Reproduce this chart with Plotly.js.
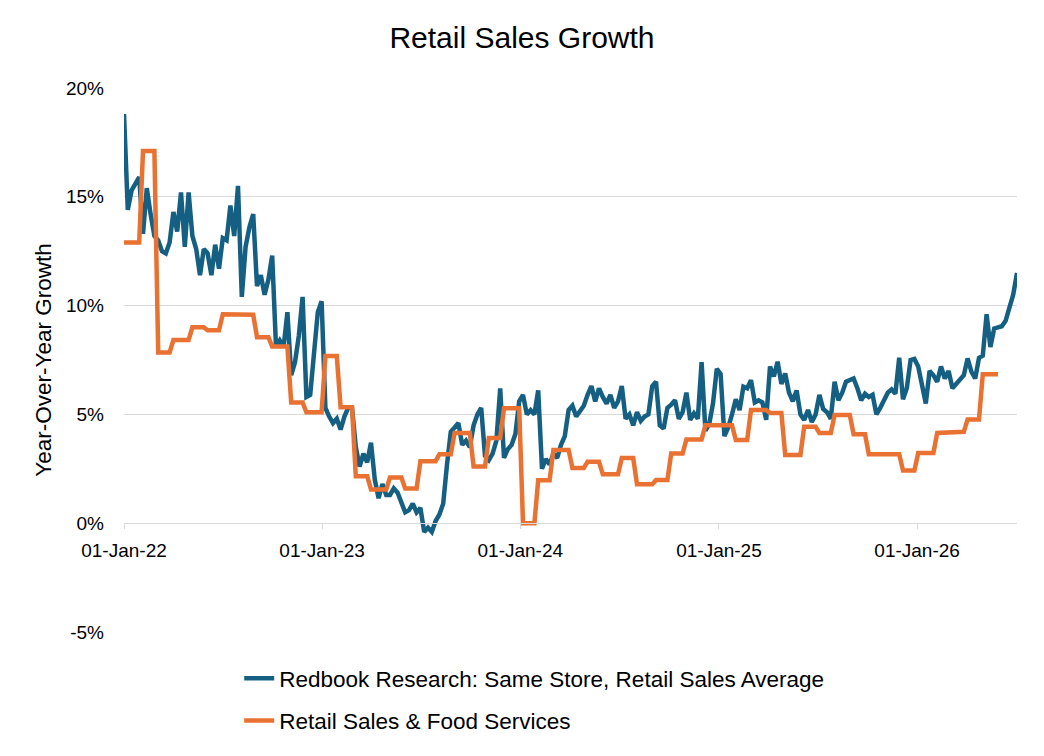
<!DOCTYPE html>
<html>
<head>
<meta charset="utf-8">
<script src="https://cdn.plot.ly/plotly-3.0.1.min.js"></script>
<style>html,body{margin:0;padding:0;background:#fff;}#chart{width:1044px;height:756px;}</style>
</head>
<body>
<div id="chart"></div>
<script>
// Weekly series (week ending Saturday), starting 2022-01-01
const firstWeek = '2022-01-01';
const redbook2022 = [18.8,14.4,15.3,15.6,15.9,13.3,15.4,14.2,13.2,13.0,12.5,12.4,12.9,14.3,13.4,15.2,12.7,15.2,13.2,12.6,11.4,12.6,12.4,11.4,12.8,11.7,13.1,13.0,14.6,13.2,15.5,10.4,12.7,13.6,14.2,10.9,11.4,10.5,11.2,12.3,8.1,8.4,8.1,9.7,6.8,7.4,8.6,10.4,5.8,5.9,7.6,9.7,10.2];
const redbook2023 = [5.3,4.9,4.6,4.8,4.3,4.9,5.3,5.3,3.5,2.6,3.2,2.8,3.7,2.0,1.15,1.8,1.3,1.3,1.6,1.4,1.0,0.5,0.6,0.9,0.5,0.7,-0.4,-0.2,-0.4,0.1,0.4,0.9,2.7,4.2,4.4,4.6,3.6,3.8,3.5,4.5,5.0,5.3,3.1,2.9,3.2,3.8,6.2,3.0,3.4,3.6,4.1,5.6];
const redbook2024 = [5.9,5.0,5.2,5.0,6.1,2.5,2.95,2.7,3.2,3.0,3.6,4.0,5.2,5.4,4.9,5.2,5.4,5.9,6.3,5.6,6.2,5.8,5.5,5.9,5.3,5.6,6.3,4.8,5.0,4.5,5.1,4.7,4.9,5.0,6.3,6.5,4.5,4.35,5.3,5.45,5.65,4.8,5.1,6.0,4.75,5.05,4.8,7.4,4.25,4.55,5.5,7.1];
const redbook2025 = [6.85,4.0,4.4,5.0,5.7,5.2,6.27,6.2,6.57,5.55,5.65,5.55,4.75,7.2,6.75,7.42,6.4,6.88,6.0,5.6,6.1,5.0,4.75,5.2,4.65,5.0,5.9,5.25,5.1,4.8,6.5,5.65,6.0,6.5,6.55,6.65,6.2,5.65,5.95,5.8,5.9,5.0,5.3,5.7,6.0,6.15,5.95,7.6,5.7,6.2,7.5,7.55];
const redbook2026 = [7.2,6.35,5.5,7.0,6.8,6.5,7.2,6.65,7.0,6.2,6.4,6.6,6.8,7.57,6.96,6.65,7.6,7.7,9.6,8.1,8.95,9.0,9.05,9.3,9.9,10.5,11.5];

// Monthly retail sales & food services YoY growth (%)
const retailMonths = ['2022-01','2022-02','2022-03','2022-04','2022-05','2022-06','2022-07','2022-08','2022-09','2022-10','2022-11','2022-12',
  '2023-01','2023-02','2023-03','2023-04','2023-05','2023-06','2023-07','2023-08','2023-09','2023-10','2023-11','2023-12',
  '2024-01','2024-02','2024-03','2024-04','2024-05','2024-06','2024-07','2024-08','2024-09','2024-10','2024-11','2024-12',
  '2025-01','2025-02','2025-03','2025-04','2025-05','2025-06','2025-07','2025-08','2025-09','2025-10','2025-11','2025-12',
  '2026-01','2026-02','2026-03','2026-04','2026-05'];
const retailValues = [12.9,17.1,7.85,8.42,9.0,8.87,9.6,9.58,8.55,8.12,5.55,5.1,
  7.68,5.33,2.16,1.55,2.1,1.6,2.85,3.17,4.15,2.6,3.92,5.28,
  0.0,1.97,3.36,2.54,2.82,2.25,3.0,1.79,1.98,3.2,3.85,4.5,
  4.5,3.82,5.2,5.07,3.13,4.43,4.15,4.97,4.09,3.17,3.17,2.42,
  3.23,4.15,4.2,4.77,6.85];

const yTickVals = [-5,0,5,10,15,20];
const yTickText = ['-5%','0%','5%','10%','15%','20%'];

const redbook = redbook2022.concat(redbook2023, redbook2024, redbook2025, redbook2026);
const start = new Date(firstWeek + 'T00:00:00Z');
const weeks = redbook.map((_, i) => {
  const d = new Date(start.getTime() + i * 7 * 86400000);
  return d.toISOString().slice(0, 10);
});
const monthLookup = {};
retailMonths.forEach((m, i) => { monthLookup[m] = retailValues[i]; });
const retailWeekly = weeks.map(d => (d.slice(0, 7) in monthLookup) ? monthLookup[d.slice(0, 7)] : null);

const FONT = 'Liberation Sans, Arial, sans-serif';

const traces = [
  {
    x: weeks, y: redbook, type: 'scatter', mode: 'lines',
    name: 'Redbook Research: Same Store, Retail Sales Average',
    line: {color: '#156082', width: 4.5}, legendgroup: 'a'
  },
  {
    x: weeks, y: retailWeekly, type: 'scatter', mode: 'lines',
    name: 'Retail Sales & Food Services',
    line: {color: '#E97132', width: 4.5}, legendgroup: 'b', connectgaps: false
  }
];

const layout = {
  width: 1044, height: 756,
  margin: {l: 124, r: 27, t: 88, b: 124},
  paper_bgcolor: '#ffffff', plot_bgcolor: '#ffffff',
  font: {family: FONT, color: '#000000'},
  title: {text: 'Retail Sales Growth', font: {size: 30, family: FONT, color: '#000'}, x: 0.5, xref: 'container', xanchor: 'center', y: 0.95, yref: 'container', yanchor: 'middle'},
  showlegend: true,
  legend: {
    orientation: 'v', x: 0.129, xanchor: 'left', y: -0.046, yanchor: 'top',
    font: {size: 22.5, family: FONT, color: '#000'},
    traceorder: 'grouped', tracegroupgap: 10, bgcolor: 'rgba(0,0,0,0)'
  },
  xaxis: {
    type: 'date', tickformat: '%d-%b-%y', dtick: 'M12', tick0: '2022-01-01',
    anchor: 'free', position: 0.2,
    showgrid: false, showline: true, linecolor: '#d9d9d9', linewidth: 1,
    ticks: 'outside', ticklen: 5, tickcolor: '#d9d9d9', tickwidth: 1, ticklabelstandoff: 5,
    tickfont: {size: 19, family: FONT, color: '#000'}, zeroline: false
  },
  yaxis: {
    range: [-5, 20], tickvals: yTickVals, ticktext: yTickText,
    showgrid: true, gridcolor: '#d9d9d9', gridwidth: 1, zeroline: false,
    showline: false, ticks: '', ticklabelstandoff: 19,
    tickfont: {size: 19, family: FONT, color: '#000'},
    title: {text: 'Year-Over-Year Growth', font: {size: 22.5, family: FONT, color: '#000'}, standoff: 8}
  }
};

Plotly.newPlot('chart', traces, layout, {displayModeBar: false, staticPlot: true});
</script>
</body>
</html>
